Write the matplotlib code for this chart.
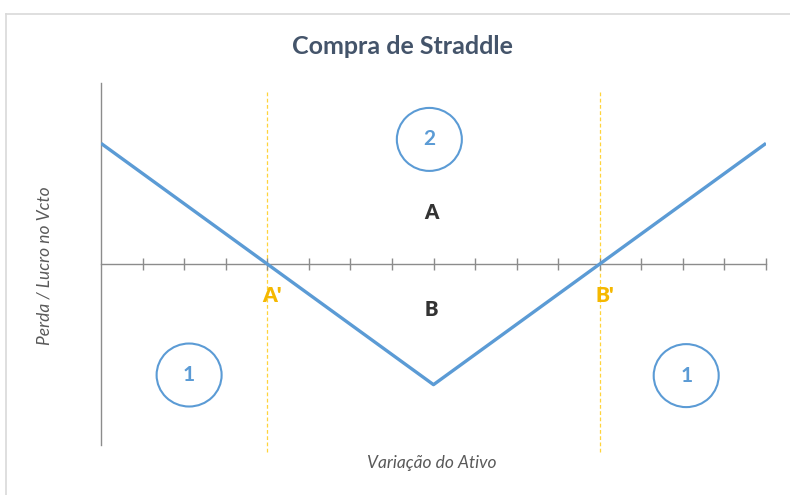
import matplotlib
matplotlib.use("Agg")
import matplotlib.pyplot as plt
from matplotlib.patches import Ellipse
from matplotlib.lines import Line2D

plt.rcParams['font.family'] = ['Lato', 'DejaVu Sans']

# Data
x_vals = [0, 4, 8, 12, 16]
payoff = [4, 0, -4, 0, 4]
breakevens = [4, 12]
breakeven_labels = ["A'", "B'"]
x_ticks = list(range(1, 17))
region_labels = ["A", "B"]
region_pos = [(7.95, 1.7), (7.95, -1.5)]
circle_labels = ["1", "2", "1"]
circle_pos = [(2.12, -3.68), (7.9, 4.13), (14.08, -3.7)]

title = "Compra de Straddle"
xlabel = "Variação do Ativo"
ylabel = "Perda / Lucro no Vcto"

line_color = "#5B9BD5"
gold = "#F5B800"
axis_color = "#8C8C8C"

fig = plt.figure(figsize=(7.9, 4.95), dpi=100)
ax = fig.add_axes([101/790, (495-445)/495, (766-101)/790, (445-83)/495])
ax.set_xlim(0, 16)
ax.set_ylim(-6, 6)
ax.patch.set_alpha(0)

for s in ['top', 'right']:
    ax.spines[s].set_visible(False)
ax.spines['bottom'].set_position(('data', 0))
ax.spines['bottom'].set_color(axis_color)
ax.spines['left'].set_color(axis_color)
ax.spines['bottom'].set_linewidth(1.0)
ax.spines['left'].set_linewidth(1.0)
ax.set_xticks(x_ticks)
ax.set_xticklabels([])
ax.tick_params(axis='x', direction='inout', length=8, width=1.0, color=axis_color)
ax.set_yticks([])

# breakeven dashed lines
for b in breakevens:
    ax.axvline(b, ymin=-0.02, ymax=0.98, color="#FFD43B", lw=0.9, ls=(0, (3, 2)), clip_on=False, zorder=1)

ax.plot(x_vals, payoff, color=line_color, lw=2.4, solid_capstyle='butt', zorder=3)

for b, lab in zip(breakevens, breakeven_labels):
    ax.text(b + 0.12, -1.05, lab, color=gold, fontsize=15, fontweight='heavy', ha='center', va='center')

for (px, py), lab in zip(region_pos, region_labels):
    ax.text(px, py, lab, color="#333333", fontsize=14.5, fontweight='heavy', ha='center', va='center')

for (px, py), lab in zip(circle_pos, circle_labels):
    e = Ellipse((px, py), width=65/41.56, height=63/30.17, fill=False, edgecolor=line_color, lw=1.5, zorder=4)
    ax.add_patch(e)
    ax.text(px, py, lab, color=line_color, fontsize=15, fontweight='bold', ha='center', va='center')

fig.text(402/790, 1 - 47/495, title, color="#44546A", fontsize=18, fontweight='bold', ha='center', va='center')
fig.text(432/790, 1 - 463/495, xlabel, color="#595959", fontsize=12.5, style='italic', ha='center', va='center')
fig.text(45/790, 1 - 266/495, ylabel, color="#595959", fontsize=12.5, style='italic', ha='center', va='center', rotation=90)

# outer frame
fig.add_artist(Line2D([6/790, 1], [1 - 14/495, 1 - 14/495], transform=fig.transFigure, color="#D9D9D9", lw=1.2))
fig.add_artist(Line2D([6/790, 6/790], [0, 1 - 14/495], transform=fig.transFigure, color="#D9D9D9", lw=1.2))

fig.savefig("out.png", dpi=100)
